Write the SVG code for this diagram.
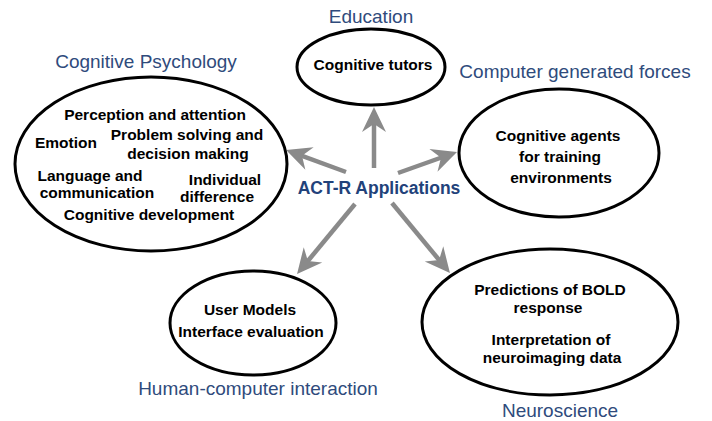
<svg xmlns="http://www.w3.org/2000/svg" width="712" height="421" viewBox="0 0 712 421">
  <style>
    .bg { fill: #ffffff; }
    .node ellipse { fill: #ffffff; stroke: #000000; stroke-width: 3; }
    .title { font-family: "Liberation Sans", Arial, sans-serif; font-size: 19px; fill: #2F4B7C; text-anchor: middle; }
    .item { font-family: "Liberation Sans", Arial, sans-serif; font-size: 15.5px; font-weight: bold; fill: #000000; text-anchor: middle; }
    .hub { font-family: "Liberation Sans", Arial, sans-serif; font-size: 17.5px; font-weight: bold; fill: #22427A; text-anchor: middle; }
    .conn line { stroke: #8A8A8A; stroke-width: 4.5; fill: none; marker-end: url(#arrow); }
  </style>
  <defs>
    <marker id="arrow" markerUnits="userSpaceOnUse" viewBox="-14 -13 27 26" refX="0" refY="0" markerWidth="27" markerHeight="26" orient="auto">
      <path d="M12,0 L-13,-12 L-5,0 L-13,12 Z" fill="#8A8A8A"/>
    </marker>
  </defs>
  <rect class="bg" x="0" y="0" width="712" height="421"/>

  <g id="connectors" class="conn">
    <line x1="374" y1="168" x2="374" y2="119"/>
    <line x1="346" y1="172" x2="297.3" y2="154.1"/>
    <line x1="398" y1="173" x2="445.7" y2="156"/>
    <line x1="355" y1="204" x2="304.7" y2="264.8"/>
    <line x1="392" y1="203" x2="442.3" y2="263.8"/>
  </g>

  <g id="hub">
    <text class="hub" x="379" y="194">ACT-R Applications</text>
  </g>

  <g id="cognitive-psychology" class="node">
    <text class="title" x="146" y="68">Cognitive Psychology</text>
    <ellipse cx="151" cy="164" rx="136" ry="87"/>
    <text class="item" x="155" y="120">Perception and attention</text>
    <text class="item" x="66" y="148">Emotion</text>
    <text class="item" x="187" y="140">Problem solving and</text>
    <text class="item" x="188" y="159">decision making</text>
    <text class="item" x="90" y="181">Language and</text>
    <text class="item" x="97" y="198">communication</text>
    <text class="item" x="225" y="185">Individual</text>
    <text class="item" x="217" y="202">difference</text>
    <text class="item" x="149" y="220">Cognitive development</text>
  </g>

  <g id="education" class="node">
    <text class="title" x="371" y="23">Education</text>
    <ellipse cx="371" cy="67" rx="74" ry="38"/>
    <text class="item" x="373" y="70">Cognitive tutors</text>
  </g>

  <g id="computer-generated-forces" class="node">
    <text class="title" x="575" y="78">Computer generated forces</text>
    <ellipse cx="559" cy="153" rx="100" ry="64"/>
    <text class="item" x="558" y="141">Cognitive agents</text>
    <text class="item" x="560" y="162">for training</text>
    <text class="item" x="561" y="183">environments</text>
  </g>

  <g id="human-computer-interaction" class="node">
    <ellipse cx="253" cy="323" rx="83" ry="52"/>
    <text class="item" x="250" y="315">User Models</text>
    <text class="item" x="251" y="337">Interface evaluation</text>
    <text class="title" x="258" y="395">Human-computer interaction</text>
  </g>

  <g id="neuroscience" class="node">
    <ellipse cx="550" cy="322" rx="128" ry="73"/>
    <text class="item" x="550" y="295">Predictions of BOLD</text>
    <text class="item" x="548" y="313">response</text>
    <text class="item" x="551" y="345">Interpretation of</text>
    <text class="item" x="552" y="363">neuroimaging data</text>
    <text class="title" x="560" y="417">Neuroscience</text>
  </g>
</svg>
